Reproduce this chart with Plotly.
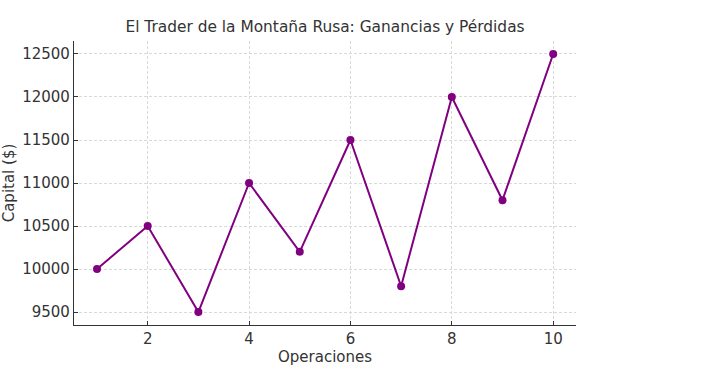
import plotly.graph_objects as go

operaciones = [1, 2, 3, 4, 5, 6, 7, 8, 9, 10]
capital = [10000, 10500, 9500, 11000, 10200, 11500, 9800, 12000, 10800, 12500]
x_ticks = [2, 4, 6, 8, 10]
y_ticks = [9500, 10000, 10500, 11000, 11500, 12000, 12500]
y_tick_labels = [str(v) for v in y_ticks]

fig = go.Figure()
fig.add_trace(go.Scatter(
    x=operaciones, y=capital, mode="lines+markers",
    line=dict(color="#800080", width=2),
    marker=dict(color="#800080", size=8),
))

font_family = "DejaVu Sans"
fig.update_layout(
    width=706, height=375,
    margin=dict(l=74, r=130, t=41, b=50, autoexpand=False),
    paper_bgcolor="white", plot_bgcolor="white",
    showlegend=False,
    title=dict(text="El Trader de la Montaña Rusa: Ganancias y Pérdidas",
               x=325 / 706, xanchor="center", xref="container",
               y=1 - 27 / 375, yref="container", yanchor="middle",
               font=dict(family=font_family, size=15.4, color="#333333")),
    font=dict(family=font_family, size=15, color="#333333"),
)
fig.update_xaxes(
    range=[0.546, 10.45], tickvals=x_ticks, ticks="inside", ticklen=4, tickcolor="#333333",
    showline=True, linecolor="#333333", linewidth=1.2, mirror=False, automargin=False,
    showgrid=True, gridcolor="#d9d9d9", griddash="3px,2px", gridwidth=0.8,
    zeroline=False, title=dict(text="Operaciones", font=dict(size=15), standoff=4),
    tickfont=dict(size=15),
)
fig.update_yaxes(
    range=[9349, 12651], tickvals=y_ticks, ticktext=y_tick_labels, ticks="inside", ticklen=4,
    tickcolor="#333333",
    showline=True, linecolor="#333333", linewidth=1.2, mirror=False, automargin=False,
    showgrid=True, gridcolor="#d9d9d9", griddash="3px,2px", gridwidth=0.8,
    zeroline=False, title=dict(text="Capital ($)", font=dict(size=15), standoff=6),
    tickfont=dict(size=15),
)

fig.write_html("out.html", config={"displayModeBar": False},
               post_script="document.body.style.margin='0';")
